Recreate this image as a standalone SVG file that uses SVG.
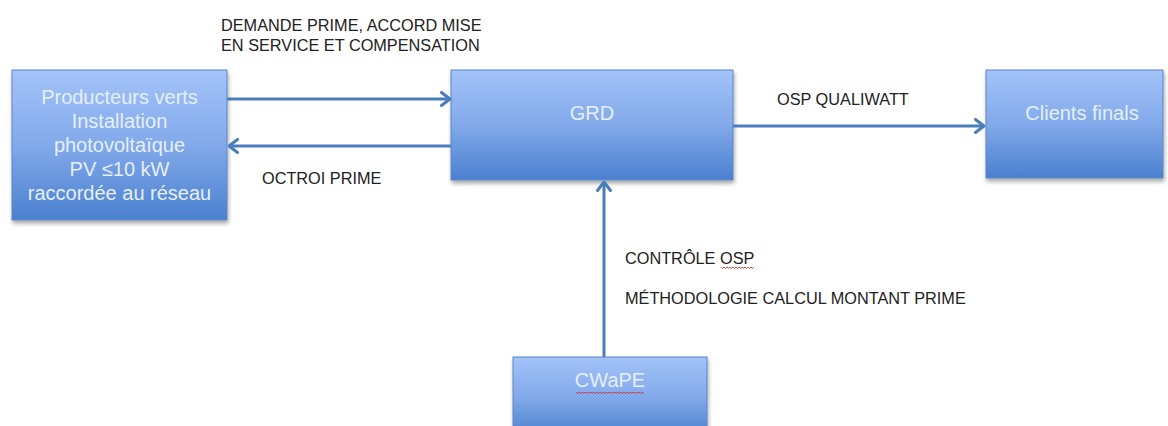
<svg xmlns="http://www.w3.org/2000/svg" width="1168" height="426" viewBox="0 0 1168 426">
<defs>
<linearGradient id="boxg" x1="0" y1="0" x2="0" y2="1">
<stop offset="0" stop-color="#a3c3f9"/>
<stop offset="0.5" stop-color="#82a9ea"/>
<stop offset="1" stop-color="#4a80cf"/>
</linearGradient>
<filter id="sh" x="-10%" y="-10%" width="120%" height="130%">
<feGaussianBlur in="SourceAlpha" stdDeviation="2"/>
<feOffset dx="1" dy="3"/>
<feComponentTransfer><feFuncA type="linear" slope="0.35"/></feComponentTransfer>
<feMerge><feMergeNode/><feMergeNode in="SourceGraphic"/></feMerge>
</filter>
<marker id="arr" viewBox="0 0 12 16" refX="10.5" refY="8" markerWidth="12" markerHeight="16" markerUnits="userSpaceOnUse" orient="auto">
<polyline points="2,1.5 10.5,8 2,14.5" fill="none" stroke="#4a7ebb" stroke-width="3" stroke-linecap="round" stroke-linejoin="round"/>
</marker>
</defs>
<style>
.box{fill:url(#boxg);stroke:#5a86c6;stroke-width:1;filter:url(#sh)}
.nt{font-family:"Liberation Sans",Arial,sans-serif;font-size:20px;fill:#e6effc;text-anchor:middle}
.lbl{font-family:"Liberation Sans",Arial,sans-serif;font-size:16.3px;fill:#222}
.con{stroke:#4a7ebb;stroke-width:3;fill:none;marker-end:url(#arr)}
.sq{stroke:#d03030;stroke-width:0.9;fill:none}
</style>
<rect width="1168" height="426" fill="#ffffff"/>
<g id="producteurs">
<rect class="box" x="12" y="70" width="215" height="150"/>
<text class="nt" x="119.5" y="104">Producteurs verts</text>
<text class="nt" x="119.5" y="128">Installation</text>
<text class="nt" x="119.5" y="152">photovoltaïque</text>
<text class="nt" x="119.5" y="176">PV ≤10 kW</text>
<text class="nt" x="119.5" y="200">raccordée au réseau</text>
</g>
<g id="grd">
<rect class="box" x="451" y="70" width="282" height="110"/>
<text class="nt" x="592" y="120">GRD</text>
</g>
<g id="clients">
<rect class="box" x="986" y="70" width="177" height="108"/>
<text class="nt" x="1082" y="120">Clients finals</text>
</g>
<g id="cwape">
<rect class="box" x="513" y="357" width="194" height="80"/>
<text class="nt" x="610" y="387">CWaPE</text>
<path class="sq" d="M576,392 l1.5,1.5 l1.5,-1.5 l1.5,1.5 l1.5,-1.5 l1.5,1.5 l1.5,-1.5 l1.5,1.5 l1.5,-1.5 l1.5,1.5 l1.5,-1.5 l1.5,1.5 l1.5,-1.5 l1.5,1.5 l1.5,-1.5 l1.5,1.5 l1.5,-1.5 l1.5,1.5 l1.5,-1.5 l1.5,1.5 l1.5,-1.5 l1.5,1.5 l1.5,-1.5 l1.5,1.5 l1.5,-1.5 l1.5,1.5 l1.5,-1.5 l1.5,1.5 l1.5,-1.5 l1.5,1.5 l1.5,-1.5 l1.5,1.5 l1.5,-1.5 l1.5,1.5 l1.5,-1.5 l1.5,1.5 l1.5,-1.5 l1.5,1.5 l1.5,-1.5 l1.5,1.5 l1.5,-1.5 l1.5,1.5 l1.5,-1.5 l1.5,1.5 l1.5,-1.5 l1.5,1.5"/>
</g>
<g id="connectors">
<line class="con" x1="227" y1="99" x2="450" y2="99"/>
<line class="con" x1="451" y1="146" x2="229" y2="146"/>
<line class="con" x1="733" y1="126" x2="984" y2="126"/>
<line class="con" x1="604" y1="357" x2="604" y2="182"/>
</g>
<g id="labels">
<text class="lbl" x="221" y="31">DEMANDE PRIME, ACCORD MISE</text>
<text class="lbl" x="221" y="51">EN SERVICE ET COMPENSATION</text>
<text class="lbl" x="262" y="184">OCTROI PRIME</text>
<text class="lbl" x="777" y="105">OSP QUALIWATT</text>
<text class="lbl" x="625" y="264">CONTRÔLE OSP</text>
<path class="sq" d="M721,267 l1.5,1.5 l1.5,-1.5 l1.5,1.5 l1.5,-1.5 l1.5,1.5 l1.5,-1.5 l1.5,1.5 l1.5,-1.5 l1.5,1.5 l1.5,-1.5 l1.5,1.5 l1.5,-1.5 l1.5,1.5 l1.5,-1.5 l1.5,1.5 l1.5,-1.5 l1.5,1.5 l1.5,-1.5 l1.5,1.5 l1.5,-1.5 l1.5,1.5 l1.5,-1.5"/>
<text class="lbl" x="625" y="304">MÉTHODOLOGIE CALCUL MONTANT PRIME</text>
</g>
</svg>
